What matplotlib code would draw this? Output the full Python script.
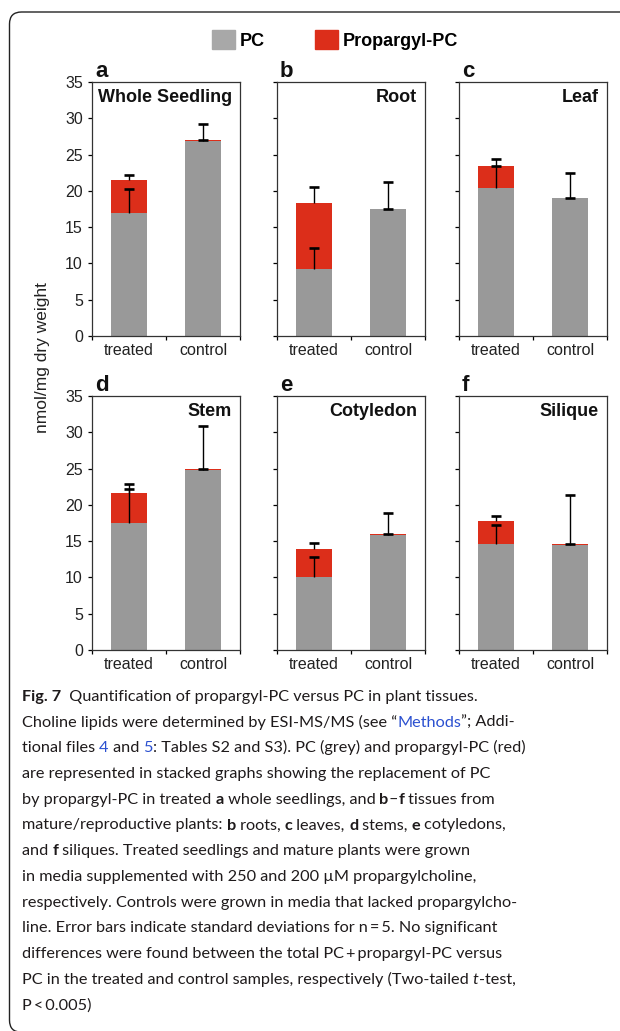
import numpy as np
import matplotlib
matplotlib.use("Agg")
import matplotlib.pyplot as plt
from matplotlib.patches import Patch, FancyBboxPatch

# data (nmol/mg dry weight)
tissues = ["Whole Seedling", "Root", "Leaf", "Stem", "Cotyledon", "Silique"]
letters = ["a", "b", "c", "d", "e", "f"]
groups = ["treated", "control"]

pc_treated = [16.95, 9.2, 20.4, 17.45, 10.0, 14.6]
pc_treated_sd = [3.35, 2.87, 3.0, 4.75, 2.85, 2.67]
prop_treated = [4.55, 9.1, 3.0, 4.15, 3.86, 3.2]
prop_treated_sd = [0.7, 2.2, 1.0, 1.3, 0.92, 0.6]

pc_control = [26.85, 17.45, 18.95, 24.85, 15.85, 14.45]
pc_control_sd = [2.35, 3.75, 3.45, 5.95, 3.08, 6.95]
prop_control = [0.1, 0.05, 0.1, 0.1, 0.1, 0.1]
prop_control_sd = [0.03, 0.03, 0.03, 0.03, 0.03, 0.03]

# caption lines: (text, style)  style: n normal, b bold, i italic, l link
caption = [
    [("Fig. 7", "b"), ("  Quantification of propargyl-PC versus PC in plant tissues.", "n")],
    [("Choline lipids were determined by ESI-MS/MS (see \u201c", "n"), ("Methods", "l"), ("\u201d; Addi-", "n")],
    [("tional files ", "n"), ("4", "l"), (" and ", "n"), ("5", "l"),
     (": Tables S2 and S3). PC (grey) and propargyl-PC (red)", "n")],
    [("are represented in stacked graphs showing the replacement of PC", "n")],
    [("by propargyl-PC in treated ", "n"), ("a", "b"), (" whole seedlings, and ", "n"), ("b", "b"),
     ("\u2013", "n"), ("f", "b"), (" tissues from", "n")],
    [("mature/reproductive plants: ", "n"), ("b", "b"), (" roots, ", "n"), ("c", "b"), (" leaves, ", "n"),
     ("d", "b"), (" stems, ", "n"), ("e", "b"), (" cotyledons,", "n")],
    [("and ", "n"), ("f", "b"), (" siliques. Treated seedlings and mature plants were grown", "n")],
    [("in media supplemented with 250 and 200 \u00b5M propargylcholine,", "n")],
    [("respectively. Controls were grown in media that lacked propargylcho-", "n")],
    [("line. Error bars indicate standard deviations for n\u2009=\u20095. No significant", "n")],
    [("differences were found between the total PC\u2009+\u2009propargyl-PC versus", "n")],
    [("PC in the treated and control samples, respectively (Two-tailed ", "n"), ("t", "i"), ("-test,", "n")],
    [("P\u2009<\u20090.005)", "n")],
]

GREY = "#999999"
RED = "#dc2e1a"
W, H = 620, 1031

plt.rcParams["font.family"] = ["Liberation Sans", "DejaVu Sans"]
fig = plt.figure(figsize=(6.2, 10.31), dpi=100)

lefts = [92, 277, 459]
tops = [82, 396]
aw, ah = 148, 254
x = np.arange(len(groups))

for i in range(6):
    row, col = i // 3, i % 3
    ax = fig.add_axes([lefts[col] / W, 1 - (tops[row] + ah) / H, aw / W, ah / H])
    pc = [pc_treated[i], pc_control[i]]
    pr = [prop_treated[i], prop_control[i]]
    ax.bar(x, pc, width=0.48, color=GREY, zorder=2)
    ax.bar(x, pr, width=0.48, bottom=pc, color=RED, zorder=2)
    # upper error bars for each stacked part
    tops_pr = [pc[0] + pr[0], pc[1] + pr[1]]
    for yy, ee in [(pc, [pc_treated_sd[i], pc_control_sd[i]]),
                   (tops_pr, [prop_treated_sd[i], prop_control_sd[i]])]:
        eb = ax.errorbar(x, yy, yerr=[np.zeros(2), ee], fmt="none", ecolor="black",
                         elinewidth=1.0, capsize=3.6, capthick=1.9, zorder=3)
        eb[1][0].set_visible(False)
    ax.set_xlim(-0.5, 1.5)
    ax.set_ylim(0, 35)
    ax.set_yticks(range(0, 36, 5))
    ax.set_xticks(x)
    ax.set_xticklabels(groups)
    ax.set_xticks([-0.5, 0.5, 1.5], minor=True)
    ax.tick_params(axis="x", which="major", length=0, pad=5, labelsize=11.5, labelcolor="#222222")
    ax.tick_params(axis="x", which="minor", length=3, width=0.9, direction="out")
    ax.tick_params(axis="y", length=2.6, width=0.9, direction="out", pad=4,
                   labelsize=11.5, labelcolor="#222222", labelleft=(col == 0))
    for s in ax.spines.values():
        s.set_linewidth(0.9)
        s.set_color("#333333")
    ax.text(1 - 8 / aw, 1 - 16 / ah, tissues[i], transform=ax.transAxes, ha="right", va="center",
            fontsize=13, fontweight="bold", color="#111111")
    ax.text(3 / aw, 1 + 5 / ah, letters[i], transform=ax.transAxes, ha="left", va="baseline",
            fontsize=16, fontweight="bold", color="#111111")

fig.text(43 / W, 1 - 358 / H, "nmol/mg dry weight", rotation=90, ha="center", va="center",
         fontsize=12.5, color="#222222")

handles = [Patch(color="#a8a8a8", label="PC"), Patch(color=RED, label="Propargyl-PC")]
fig.legend(handles=handles, loc="center", bbox_to_anchor=(335 / W, 1 - 40 / H), ncol=2,
           frameon=False, prop={"weight": "bold", "size": 13}, handlelength=1.27,
           handleheight=1.27, handletextpad=0.3, columnspacing=2.75, borderpad=0)

# outer rounded frame (cut by the picture edge on the right and bottom)
frame = FancyBboxPatch((0.095, -0.012), 6.5, 10.19 + 0.012,
                       boxstyle="round,pad=0,rounding_size=0.12",
                       transform=fig.dpi_scale_trans, fill=False, lw=1.0, ec="#222222")
fig.add_artist(frame)

# caption
renderer = fig.canvas.get_renderer()
CAP_FONT = ["Lato", "DejaVu Sans"]


def style_kw(style, size):
    kw = dict(fontsize=size, family=CAP_FONT, color="#1e1a1b")
    if style == "b":
        kw["fontweight"] = "bold"
    if style == "i":
        kw["fontstyle"] = "italic"
    if style == "l":
        kw["color"] = "#2b50d0"
    return kw


def seg_width(txt, kw):
    t1 = fig.text(0, 0, txt + "|", **kw)
    t2 = fig.text(0, 0, "|", **kw)
    w = t1.get_window_extent(renderer).width - t2.get_window_extent(renderer).width
    t1.remove()
    t2.remove()
    return w


# pick the size so that a few long lines are as wide as in the figure
fit_lines = [2, 3, 5, 8]
fit_target = 493 + 468 + 494 + 497
w_fit = sum(seg_width(t, style_kw(s, 10)) for k in fit_lines for t, s in caption[k])
cap_size = 10 * fit_target / w_fit

for n, line in enumerate(caption):
    xp = 22
    yp = 701 + n * 25.7
    for txt, st in line:
        kw = style_kw(st, cap_size)
        fig.text(xp / W, 1 - yp / H, txt, ha="left", va="baseline", **kw)
        xp += seg_width(txt, kw)

fig.savefig("out.png", dpi=100)
